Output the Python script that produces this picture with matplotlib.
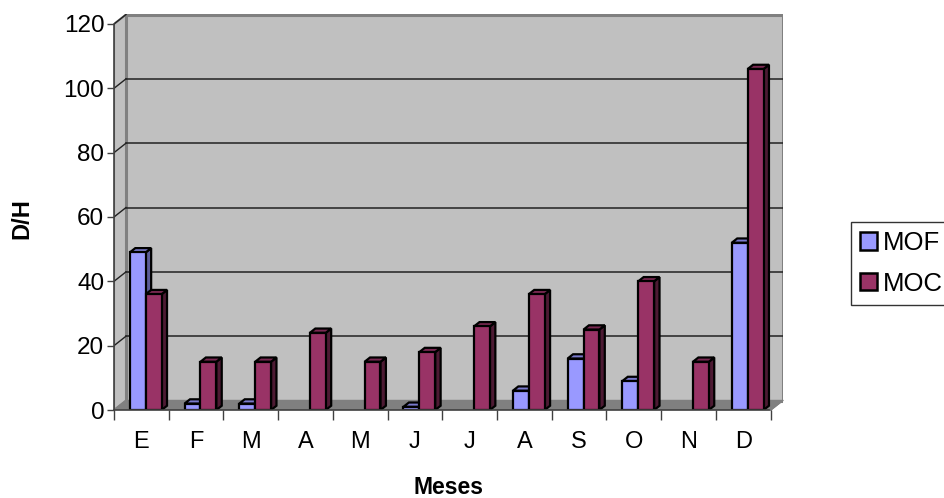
import matplotlib.pyplot as plt
from matplotlib.patches import Polygon, Rectangle, Patch

plt.rcParams['font.family'] = ['Liberation Sans', 'DejaVu Sans']

# ---- data ----
months = ['E', 'F', 'M', 'A', 'M', 'J', 'J', 'A', 'S', 'O', 'N', 'D']
mof = [49, 2, 2, 0, 0, 1, 0, 6, 16, 9, 0, 52]
moc = [36, 15, 15, 24, 15, 18, 26, 36, 25, 40, 15, 106]
yticks = [0, 20, 40, 60, 80, 100, 120]

# ---- style ----
MOF_COLORS = ('#9999FF', '#7A7ACC', '#5C5C99')   # front, top, side
MOC_COLORS = ('#993366', '#7A2952', '#4D1A33')
WALL = '#C0C0C0'
FLOOR = '#808080'
EDGE = '#808080'

OFF_X, OFF_Y = 0.22, 2.95          # wall depth (data units)
BD_X, BD_Y = 0.45 * OFF_X, 0.45 * OFF_Y   # bar depth
BAR_W = 0.29
YMAX = 120
n = len(months)

fig = plt.figure(figsize=(9.45, 4.98), dpi=100)
W, H = 945, 498
left_px, right_px = 114, 782.7
top_px, bot_px = 14.5, 410
ax = fig.add_axes([left_px / W, 1 - bot_px / H,
                   (right_px - left_px) / W, (bot_px - top_px) / H])
ax.set_xlim(-0.5, n - 0.5 + OFF_X)
ax.set_ylim(0, YMAX + OFF_Y)

x0, x1 = -0.5, n - 0.5

# walls
ax.add_patch(Polygon([(x0, 0), (x0 + OFF_X, OFF_Y), (x0 + OFF_X, YMAX + OFF_Y), (x0, YMAX)],
                     closed=True, facecolor=WALL, edgecolor=EDGE, lw=1.5, zorder=1))
ax.add_patch(Rectangle((x0 + OFF_X, OFF_Y), x1 - x0, YMAX, facecolor=WALL,
                       edgecolor=EDGE, lw=2.2, zorder=1))
ax.add_patch(Polygon([(x0, 0), (x1, 0), (x1 + OFF_X, OFF_Y), (x0 + OFF_X, OFF_Y)],
                     closed=True, facecolor=FLOOR, edgecolor=EDGE, lw=1, zorder=2))

# gridlines
for v in yticks[1:-1]:
    ax.plot([x0 + OFF_X, x1 + OFF_X], [v + OFF_Y, v + OFF_Y], color='#222222', lw=1.1, zorder=2)
for v in yticks[1:]:
    ax.plot([x0, x0 + OFF_X], [v, v + OFF_Y], color='#222222', lw=1, zorder=2)


def bar3d(x, h, colors, z):
    if h <= 0:
        return
    front, top, side = colors
    kw = dict(edgecolor='black', lw=1.6, joinstyle='miter', zorder=z)
    ax.add_patch(Polygon([(x + BAR_W, 0), (x + BAR_W + BD_X, BD_Y),
                          (x + BAR_W + BD_X, h + BD_Y), (x + BAR_W, h)],
                         closed=True, facecolor=side, **kw))
    ax.add_patch(Polygon([(x, h), (x + BAR_W, h), (x + BAR_W + BD_X, h + BD_Y),
                          (x + BD_X, h + BD_Y)], closed=True, facecolor=top, **kw))
    ax.add_patch(Rectangle((x, 0), BAR_W, h, facecolor=front, **kw))


for i in range(n):
    bar3d(i - 0.21, mof[i], MOF_COLORS, 3 + i * 2)
    bar3d(i + 0.08, moc[i], MOC_COLORS, 4 + i * 2)

# front floor edge
ax.plot([x0, x1], [0, 0], color='#404040', lw=1.2, zorder=30, clip_on=False)
ax.plot([x1, x1 + OFF_X], [0, OFF_Y], color=EDGE, lw=1.2, zorder=30, clip_on=False)

# axes / ticks
for s in ['top', 'right', 'bottom']:
    ax.spines[s].set_visible(False)
ax.spines['left'].set_bounds(0, YMAX)
ax.spines['left'].set_color('#404040')
ax.spines['left'].set_linewidth(1.2)
ax.set_yticks(yticks)
ax.tick_params(axis='y', direction='out', length=5, width=1, colors='#404040',
               labelcolor='black', labelsize=17.5, pad=2)
ax.set_xticks(range(n))
ax.set_xticklabels(months)
ax.set_xticks([b - 0.5 for b in range(n + 1)], minor=True)
ax.tick_params(axis='x', which='major', length=0, labelsize=17, pad=15)
ax.tick_params(axis='x', which='minor', direction='out', length=7, width=1, colors='#404040')

fig.text(22 / W, 1 - 219 / H, 'D/H', rotation=90, fontsize=17, fontweight='bold',
         ha='center', va='center')
fig.text(449 / W, 1 - 487 / H, 'Meses', fontsize=16.5, fontweight='bold',
         ha='center', va='center')

handles = [Patch(facecolor=MOF_COLORS[0], edgecolor='black', lw=1.8, label='MOF'),
           Patch(facecolor=MOC_COLORS[0], edgecolor='black', lw=1.8, label='MOC')]
leg = fig.legend(handles=handles, loc='upper left', bbox_to_anchor=(851 / W, 1 - 222 / H),
                 fontsize=18.5, frameon=True, fancybox=False, borderpad=0.35,
                 borderaxespad=0, handlelength=0.66, handleheight=0.66,
                 handletextpad=0.25, labelspacing=0.65)
leg.get_frame().set_edgecolor('black')
leg.get_frame().set_linewidth(1)

fig.savefig('out.png', dpi=100)
